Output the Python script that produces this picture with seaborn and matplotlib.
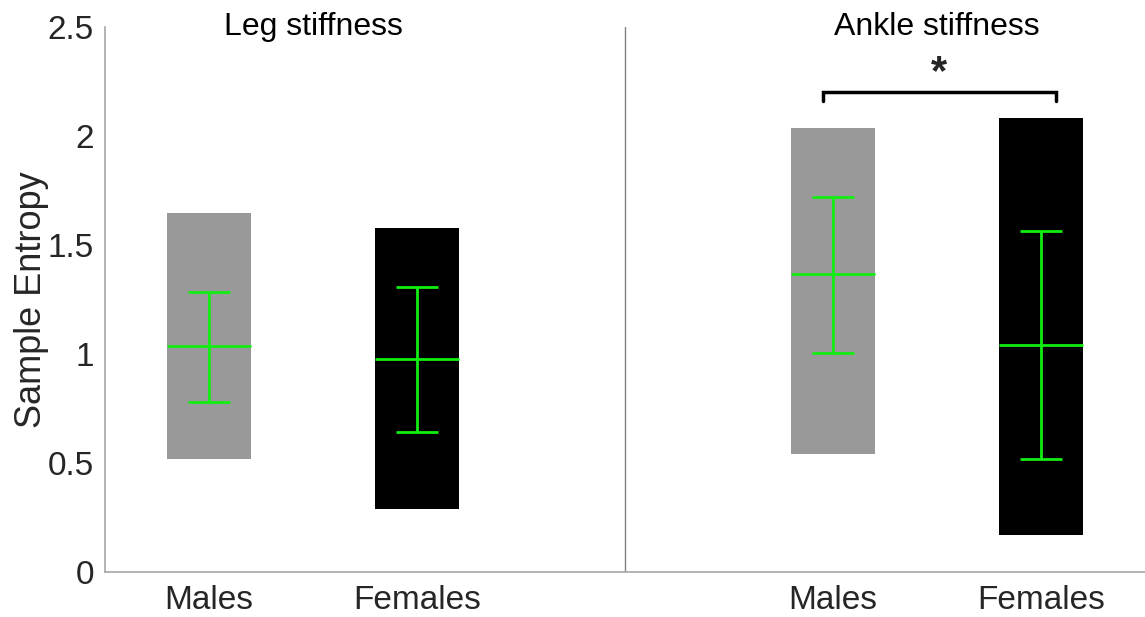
import numpy as np
import pandas as pd
import matplotlib
matplotlib.use("Agg")
import matplotlib.pyplot as plt
import seaborn as sns

# values (sample entropy)
slots = ["leg_m", "leg_f", "gap", "ank_m", "ank_f"]
groups = ["leg_m", "leg_f", "ank_m", "ank_f"]
tick_labels = ["Males", "Females", "", "Males", "Females"]
range_low = [0.52, 0.29, 0.54, 0.17]
range_high = [1.646, 1.577, 2.038, 2.083]
means = [1.035, 0.977, 1.365, 1.041]
err_low = [0.782, 0.642, 1.005, 0.518]
err_high = [1.286, 1.309, 1.721, 1.565]
bar_colors = ["#999999", "#000000", "#999999", "#000000"]
panel_titles = ["Leg stiffness", "Ankle stiffness"]

df = pd.DataFrame({
    "group": groups,
    "low": range_low,
    "high": range_high,
    "mean": means,
    "elo": err_low,
    "ehi": err_high,
})
df["span"] = df["high"] - df["low"]

sns.set_style("white")
plt.rcParams["font.family"] = ["Liberation Sans", "DejaVu Sans"]

fig = plt.figure(figsize=(11.45, 6.17), dpi=100)
ax = fig.add_axes([0.0917, 0.0729, 0.9083, 0.8833])

sns.barplot(data=df, x="group", y="span", order=slots, bottom=df["low"].to_numpy(),
            width=0.4, color="#999999", linewidth=0, ax=ax)
for patch, c in zip(ax.patches, bar_colors):
    patch.set_facecolor(c)
    patch.set_edgecolor(c)

green = "#11ee11"
xs = np.array([slots.index(g) for g in groups], dtype=float)
ax.hlines(df["mean"], xs - 0.2, xs + 0.2, color=green, lw=2)
ax.vlines(xs, df["elo"], df["ehi"], color=green, lw=2)
ax.hlines(df["elo"], xs - 0.1, xs + 0.1, color=green, lw=2)
ax.hlines(df["ehi"], xs - 0.1, xs + 0.1, color=green, lw=2)

# divider between the two panels
ax.axvline(2, 0, 1, color="#808080", lw=1)

# significance bracket
bx0, bx1, by, bdrop = 2.95, 4.07, 2.20, 0.04
ax.plot([bx0, bx0, bx1, bx1], [by - bdrop, by, by, by - bdrop], color="black", lw=2.5,
        solid_joinstyle="miter", clip_on=False)
ax.text((bx0 + bx1) / 2, 2.29, "*", ha="center", va="center", fontsize=30,
        fontweight="bold")

ax.text(0.5, 2.5, panel_titles[0], ha="center", va="center", fontsize=23, color="black")
ax.text(3.5, 2.5, panel_titles[1], ha="center", va="center", fontsize=23, color="black")

ax.set_xlim(-0.5, 4.5)
ax.set_ylim(0, 2.5)
ax.set_yticks([0, 0.5, 1, 1.5, 2, 2.5])
ax.set_yticklabels(["0", "0.5", "1", "1.5", "2", "2.5"])
ax.set_xticks([0, 1, 3, 4])
ax.set_xticklabels([tick_labels[i] for i in [0, 1, 3, 4]])
ax.set_xlabel("")
ax.set_ylabel("Sample Entropy", fontsize=26, color="#262626", labelpad=-1)
ax.tick_params(direction="in", length=8, width=1, color="#808080",
               labelsize=24, labelcolor="#262626", pad=8)
ax.tick_params(axis="x", pad=9)
for side in ["top", "right"]:
    ax.spines[side].set_visible(False)
for side in ["left", "bottom"]:
    ax.spines[side].set_color("#a6a6a6")
    ax.spines[side].set_linewidth(1.2)

fig.savefig("out.png", dpi=100)
